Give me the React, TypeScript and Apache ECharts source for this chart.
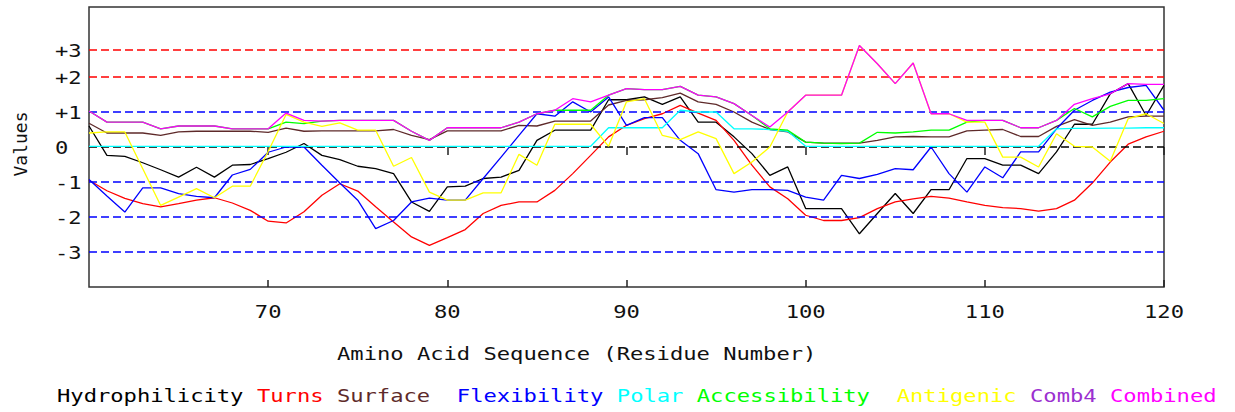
import React, { useEffect, useRef } from "react";
import * as echarts from "echarts";

// ---------- data ----------
const residues = [
  60, 61, 62, 63, 64, 65, 66, 67, 68, 69, 70, 71, 72, 73, 74, 75, 76, 77, 78, 79,
  80, 81, 82, 83, 84, 85, 86, 87, 88, 89, 90, 91, 92, 93, 94, 95, 96, 97, 98, 99,
  100, 101, 102, 103, 104, 105, 106, 107, 108, 109, 110, 111, 112, 113, 114, 115,
  116, 117, 118, 119, 120,
];

const hydrophilicity = [
  0.6, -0.24, -0.27, -0.45, -0.65, -0.86, -0.58, -0.86, -0.52, -0.5, -0.33, -0.15, 0.1,
  -0.24, -0.36, -0.55, -0.62, -0.76, -1.57, -1.84, -1.14, -1.12, -0.9, -0.86, -0.67, 0.19, 0.48, 0.48, 0.48, 1.35,
  1.35, 1.43, 1.22, 1.43, 0.71, 0.71, 0.29, -0.19, -0.81, -0.57, -1.76, -1.76, -1.76, -2.48, -1.9, -1.33, -1.9,
  -1.22, -1.22, -0.33, -0.33, -0.52, -0.52, -0.76, -0.14, 0.65, 0.65, 1.52, 1.81, 0.9, 1.76,
];

const turns = [
  -0.95, -1.25, -1.47, -1.62, -1.71, -1.62, -1.52, -1.45, -1.6, -1.81, -2.12, -2.17, -1.85,
  -1.38, -1.05, -1.26, -1.71, -2.14, -2.57, -2.81, -2.59, -2.36, -1.9, -1.67, -1.57, -1.57, -1.24, -0.76, -0.24, 0.29,
  0.62, 0.81, 0.95, 1.19, 0.97, 0.76, 0.19, -0.52, -1.14, -1.48, -1.95, -2.1, -2.1, -2.02, -1.76, -1.57, -1.48,
  -1.41, -1.46, -1.57, -1.67, -1.73, -1.76, -1.83, -1.76, -1.52, -1.03, -0.43, 0.08, 0.29, 0.45,
];

const surface = [
  0.68, 0.4, 0.4, 0.4, 0.33, 0.43, 0.45, 0.45, 0.45, 0.45, 0.42, 0.54, 0.45,
  0.46, 0.46, 0.46, 0.46, 0.5, 0.33, 0.21, 0.46, 0.46, 0.46, 0.46, 0.62, 0.6, 0.74, 0.74, 0.74, 1.2,
  1.33, 1.35, 1.41, 1.54, 1.29, 1.22, 1.0, 0.71, 0.5, 0.43, 0.14, 0.11, 0.11, 0.11, 0.19, 0.29, 0.3,
  0.29, 0.29, 0.46, 0.48, 0.5, 0.3, 0.3, 0.59, 0.78, 0.62, 0.71, 0.86, 0.88, 0.88,
];

const flexibility = [
  -0.93, -1.4, -1.86, -1.17, -1.17, -1.33, -1.41, -1.45, -0.8, -0.64, -0.15, 0.0, 0.0,
  -0.52, -1.03, -1.52, -2.33, -2.1, -1.57, -1.46, -1.52, -1.52, -0.9, -0.29, 0.33, 0.95, 0.88, 1.29, 1.0, 1.43,
  0.62, 0.84, 0.84, 0.19, -0.19, -1.22, -1.29, -1.22, -1.22, -1.24, -1.43, -1.52, -0.81, -0.9, -0.78, -0.62, -0.65,
  0.0, -0.76, -1.29, -0.57, -0.88, -0.14, -0.14, 0.52, 1.05, 1.33, 1.57, 1.7, 1.76, 1.05,
];

const polar = [
  0.02, 0.02, 0.02, 0.02, 0.02, 0.02, 0.02, 0.02, 0.02, 0.02, 0.02, 0.02, 0.02,
  0.02, 0.02, 0.02, 0.02, 0.02, 0.02, 0.02, 0.02, 0.02, 0.02, 0.02, 0.02, 0.02, 0.02, 0.02, 0.02, 0.55,
  0.55, 0.55, 0.55, 1.05, 1.0, 1.0, 0.52, 0.52, 0.5, 0.45, 0.02, 0.02, 0.02, 0.02, 0.02, 0.02, 0.02,
  0.02, 0.02, 0.02, 0.02, 0.02, 0.02, 0.02, 0.52, 0.53, 0.53, 0.54, 0.54, 0.55, 0.55,
];

const accessibility = [
  1.03, 0.71, 0.71, 0.71, 0.52, 0.6, 0.6, 0.6, 0.52, 0.52, 0.52, 0.71, 0.67,
  0.74, 0.76, 0.76, 0.76, 0.76, 0.45, 0.19, 0.55, 0.55, 0.55, 0.55, 0.71, 0.95, 1.05, 1.05, 1.05, 1.48,
  1.67, 1.64, 1.64, 1.73, 1.48, 1.43, 1.24, 0.9, 0.52, 0.48, 0.14, 0.11, 0.1, 0.11, 0.42, 0.4, 0.43,
  0.48, 0.48, 0.71, 0.76, 0.76, 0.55, 0.55, 0.76, 1.1, 0.86, 1.16, 1.33, 1.33, 1.38,
];

const antigenic = [
  0.4, 0.43, 0.43, -0.62, -1.67, -1.43, -1.19, -1.45, -1.12, -1.12, -0.13, 0.93, 0.71,
  0.59, 0.69, 0.48, 0.48, -0.55, -0.3, -1.29, -1.52, -1.52, -1.31, -1.31, -0.21, -0.52, 0.65, 0.65, 0.65, 0.02,
  1.29, 1.38, 0.33, 0.21, 0.43, 0.24, -0.76, -0.43, 0.0, 1.0, 1.48, 1.48, 1.48, 2.9, 2.38, 1.81, 2.4,
  0.95, 0.95, 0.71, 0.71, -0.29, -0.29, -0.57, 0.38, 0.02, 0.0, -0.41, 0.81, 0.95, 0.67,
];

const combined = [
  1.03, 0.71, 0.71, 0.71, 0.52, 0.6, 0.6, 0.6, 0.52, 0.52, 0.52, 0.97, 0.76,
  0.74, 0.76, 0.76, 0.76, 0.76, 0.45, 0.19, 0.55, 0.55, 0.55, 0.55, 0.71, 0.95, 1.05, 1.38, 1.29, 1.48,
  1.67, 1.64, 1.64, 1.73, 1.48, 1.43, 1.24, 0.9, 0.57, 1.0, 1.48, 1.48, 1.48, 2.9, 2.38, 1.81, 2.4,
  0.95, 0.95, 0.76, 0.76, 0.76, 0.55, 0.55, 0.76, 1.22, 1.38, 1.52, 1.81, 1.79, 1.79,
];

const seriesNames = [
  "Hydrophilicity", "Turns", "Surface", "Flexibility", "Polar",
  "Accessibility", "Antigenic", "Comb4", "Combined",
];
// Comb4 has no visible line in the reference
const seriesValues: (number[] | null)[] = [
  hydrophilicity, turns, surface, flexibility, polar, accessibility, antigenic, null, combined,
];

const xTickValues = [70, 80, 90, 100, 110, 120];
const yTickValues = [2.78, 2, 1, 0, -1, -2, -3];
const yTickLabels = ["+3", "+2", "+1", "0", "-1", "-2", "-3"];
const xAxisTitle = "Amino Acid Sequence (Residue Number)";
const yAxisTitle = "Values";

// ---------- styles ----------
const COLORS: Record<string, string> = {
  Hydrophilicity: "#000000",
  Turns: "#ff0000",
  Surface: "#5e2a2a",
  Flexibility: "#0000ff",
  Polar: "#00ffff",
  Accessibility: "#00ff00",
  Antigenic: "#ffff00",
  Comb4: "#9b30d0",
  Combined: "#ff00ff",
};
const LEGEND_GAPS = [" ", " ", "  ", " ", " ", "  ", " ", " "];
const FONT_FAMILY = "'DejaVu Sans Mono', 'Liberation Mono', monospace";
const FONT_SIZE = 18;
const SX = 1.23;
const TEXT_COLOR = "#111";

function gridColor(v: number) {
  if (v >= 2) return "#ff0000";
  if (v === 0) return "#000000";
  return "#0000ff";
}

export default function App() {
  const ref = useRef<HTMLDivElement>(null);

  useEffect(() => {
    const chart = echarts.init(ref.current!, null, { renderer: "svg" });

    const series: any[] = [];
    yTickValues.forEach((v, i) => {
      const c = gridColor(v);
      series.push({
        type: "line",
        name: "__grid" + i,
        data: [],
        silent: true,
        z: 1,
        markLine: {
          silent: true,
          symbol: ["none", "none"],
          label: { show: false },
          emphasis: { disabled: true },
          lineStyle: { color: c, type: [8, 4], width: 1.6, opacity: 1 },
          data: [{ yAxis: v }],
        },
      });
    });
    seriesNames.forEach((name, i) => {
      const vals = seriesValues[i];
      if (!vals) return;
      series.push({
        type: "line",
        name,
        data: residues.map((r, j) => [r, vals[j]]),
        showSymbol: false,
        symbol: "none",
        z: 2 + i,
        emphasis: { disabled: true },
        lineStyle: { color: COLORS[name], width: 1.3 },
        itemStyle: { color: COLORS[name] },
      });
    });

    const tickStyle = { color: "#222", width: 1.5 };
    chart.setOption({
      animation: false,
      backgroundColor: "#ffffff",
      grid: {
        left: 89,
        top: 7,
        width: 1075,
        height: 280,
        show: true,
        borderColor: "#333",
        borderWidth: 1.5,
        backgroundColor: "transparent",
      },
      xAxis: [
        {
          type: "value",
          min: 60,
          max: 120,
          interval: 10,
          axisLine: { show: false },
          splitLine: { show: false },
          axisLabel: { show: false },
          axisTick: { show: true, customValues: xTickValues, length: 8, lineStyle: tickStyle },
        },
        {
          type: "value",
          min: 60,
          max: 120,
          interval: 10,
          position: "bottom",
          axisLine: { show: false },
          splitLine: { show: false },
          axisLabel: { show: false },
          axisTick: { show: true, inside: true, customValues: xTickValues, length: 7, lineStyle: tickStyle },
        },
      ],
      yAxis: {
        type: "value",
        min: -4,
        max: 4,
        axisLine: { show: false },
        axisTick: { show: false },
        axisLabel: { show: false },
        splitLine: { show: false },
      },
      series,
    });

    const px = (v: number) => chart.convertToPixel({ xAxisIndex: 0 }, v) as number;
    const py = (v: number) => chart.convertToPixel({ yAxisIndex: 0 }, v) as number;
    const font = `${FONT_SIZE}px ${FONT_FAMILY}`;
    const bottom = py(-4);
    const top = py(4);

    const graphics: any[] = [];
    xTickValues.forEach((v) => {
      graphics.push({
        type: "text",
        x: px(v),
        y: bottom + 25,
        scaleX: SX,
        silent: true,
        style: { text: String(v), font, fill: TEXT_COLOR, align: "center", verticalAlign: "middle" },
      });
    });
    yTickValues.forEach((v, i) => {
      graphics.push({
        type: "text",
        x: 55,
        y: py(v) + 1,
        scaleX: SX,
        silent: true,
        style: { text: yTickLabels[i], font, fill: TEXT_COLOR, align: "left", verticalAlign: "middle" },
      });
    });
    graphics.push({
      type: "text",
      x: 337,
      y: bottom + 67,
      scaleX: SX,
      silent: true,
      style: { text: xAxisTitle, font, fill: TEXT_COLOR, align: "left", verticalAlign: "middle" },
    });
    graphics.push({
      type: "text",
      x: 20,
      y: (top + bottom) / 2 - 3,
      rotation: Math.PI / 2,
      silent: true,
      style: { text: yAxisTitle, font, fill: TEXT_COLOR, align: "center", verticalAlign: "middle" },
    });

    const rich: Record<string, any> = {};
    let legendText = "";
    seriesNames.forEach((name, i) => {
      rich["s" + i] = { fill: COLORS[name], fontSize: FONT_SIZE, fontFamily: FONT_FAMILY };
      legendText += `{s${i}|${name}}` + (i < LEGEND_GAPS.length ? LEGEND_GAPS[i] : "");
    });
    graphics.push({
      type: "text",
      x: 57,
      y: bottom + 109,
      scaleX: SX,
      silent: true,
      style: { text: legendText, rich, font, fill: TEXT_COLOR, align: "left", verticalAlign: "middle" },
    });

    chart.setOption({ graphic: graphics });

    return () => chart.dispose();
  }, []);

  return (
    <div
      ref={ref}
      style={{ position: "absolute", left: 0, top: 0, width: 1235, height: 412, background: "#fff" }}
    />
  );
}
